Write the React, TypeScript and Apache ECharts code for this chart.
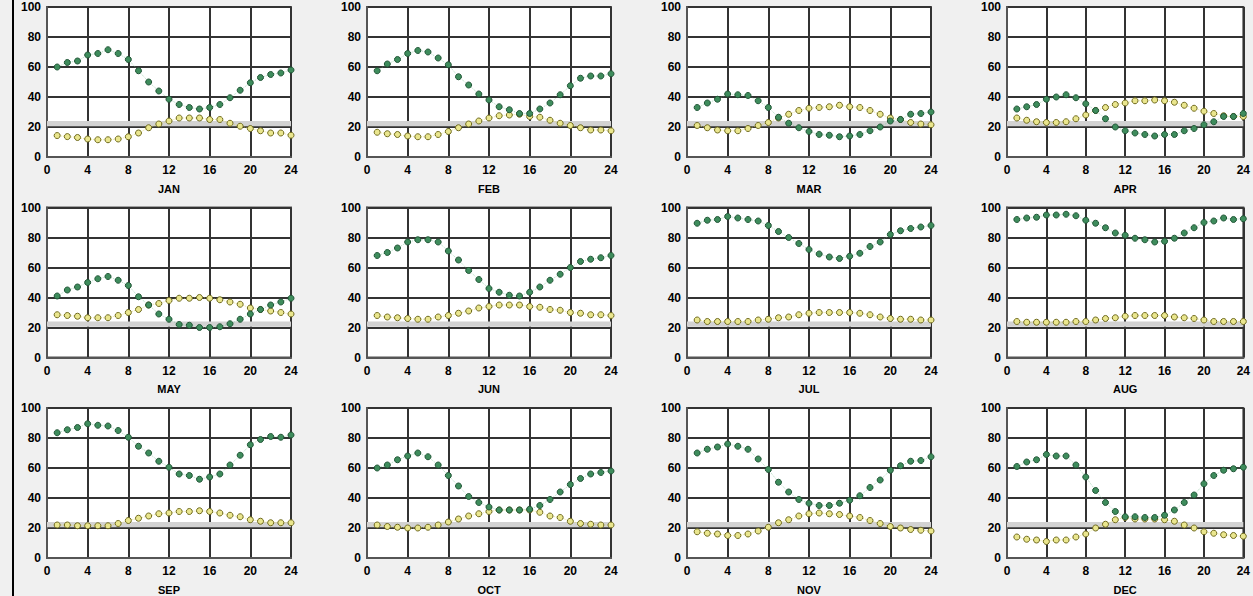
import React, { useEffect, useRef } from "react";
import * as echarts from "echarts";

const months = ["JAN", "FEB", "MAR", "APR", "MAY", "JUN", "JUL", "AUG", "SEP", "OCT", "NOV", "DEC"];
const hours = [1, 2, 3, 4, 5, 6, 7, 8, 9, 10, 11, 12, 13, 14, 15, 16, 17, 18, 19, 20, 21, 22, 23, 24];
const xTicks = { min: 0, max: 24, interval: 4 };
const yTicks = { min: 0, max: 100, interval: 20 };
const band = [20.5, 24];

const greenJan = [60, 63, 64, 68, 69, 71.5, 69, 65, 57.5, 50, 44, 38.5, 35, 33, 32, 33, 35, 39.5, 44.5, 49.5, 53, 55, 56, 58];
const yellowJan = [14.3, 13.6, 13, 12, 11.5, 11.5, 12, 13.5, 16, 19.5, 22, 24, 26, 26, 26, 25, 25, 22.5, 20.5, 19, 17.5, 16, 16, 14.5];
const greenFeb = [57.5, 62, 65, 69, 71, 70, 66, 61.5, 53.5, 48, 42, 38, 33.5, 31.5, 29, 29, 32, 36, 41.5, 47.5, 52.5, 54, 54, 55.5];
const yellowFeb = [16.5, 15.5, 15, 14, 13.5, 13.5, 15, 17, 19.5, 22, 24, 26, 27.5, 28, 28.5, 27, 26.5, 24.5, 22.5, 21, 19.5, 18, 18, 17.5];
const greenMar = [33, 36, 38.5, 42, 41.5, 41, 37.5, 33, 26.5, 22.5, 19.5, 17, 15, 14.5, 13.5, 14, 15, 17.5, 20, 24, 25, 28.5, 29, 30];
const yellowMar = [21, 19.5, 18, 17.5, 17.5, 19, 21, 23, 26, 28.5, 31, 32.5, 33, 33.5, 34.5, 33.5, 33, 31, 28.5, 26, 25, 23, 22, 21.5];
const greenApr = [32, 33.5, 35, 38.5, 40, 41.5, 39.5, 35.5, 31, 25.5, 20, 17.5, 16, 15, 14, 15, 15, 17.5, 19, 21.5, 23.5, 27, 27, 29];
const yellowApr = [26, 24.5, 23.5, 23, 23, 23.5, 25.5, 28, 31, 33, 35, 36, 37.5, 37.5, 38, 37.5, 36.5, 34.5, 32.5, 30.5, 29, 27.5, 27, 27];
const greenMay = [41, 45, 47, 50, 52.5, 54, 51.5, 48, 40.5, 35, 29, 25.5, 22, 21.5, 20, 20, 20.5, 22.5, 25.5, 29, 32, 35, 37, 39.5];
const yellowMay = [28.5, 28, 27.5, 26.5, 26.5, 26.5, 28, 30, 32, 35, 36, 38, 39.5, 39.5, 40, 39.5, 38.5, 37, 35.5, 33, 32, 31, 30, 29];
const greenJun = [68, 70, 73, 77, 78.5, 78.5, 77, 71, 65, 58, 52, 46, 43.5, 41.5, 41, 43.5, 47, 51.5, 55.5, 60, 64, 65.5, 66.5, 68];
const yellowJun = [28, 27, 26.5, 26, 25.5, 25.5, 27, 28, 29.5, 31, 33, 34, 35, 35, 35, 34, 33.5, 32, 31.5, 30, 29.5, 28.5, 28.5, 28];
const greenJul = [89.5, 91.5, 92, 94, 93, 92, 91, 88, 84, 80, 76, 72, 69, 67, 66, 67.5, 69.5, 74, 77, 82, 84.5, 86, 87, 88];
const yellowJul = [25, 24, 24, 24, 24, 24, 25, 25.5, 26.5, 27, 28.5, 29.5, 30, 30, 30, 30, 29.5, 28.5, 27, 26, 25.5, 25.5, 25, 25];
const greenAug = [92, 93, 93.5, 95, 95, 95.5, 94.5, 91.5, 89.5, 86.5, 83, 81.5, 79.5, 78.5, 77, 77.5, 79.5, 83, 86.5, 90, 91, 93, 92, 92.5];
const yellowAug = [24, 23.5, 23.5, 23.5, 23.5, 23.5, 24, 24, 25, 26, 26.5, 27.5, 28, 28, 28, 28, 27, 26.5, 26, 25, 24, 24, 24, 24];
const greenSep = [83.5, 85.5, 87, 89.5, 88.5, 88, 85, 80.5, 74.5, 70, 64.5, 60.5, 56, 55, 52.5, 54, 56, 62, 68.5, 75.5, 79, 81, 80.5, 82];
const yellowSep = [22, 22, 21.5, 21.5, 21.5, 21.5, 23, 25, 26.5, 28, 29.5, 30, 31, 31, 31.5, 31, 30, 28.5, 27.5, 25.5, 24.5, 23.5, 23.5, 23.5];
const greenOct = [60, 62, 65.5, 68, 70, 67.5, 62, 55, 48, 41, 37, 34, 32, 32, 32, 32.5, 35, 39, 44, 49, 53, 56, 57, 58];
const yellowOct = [22, 21, 20.5, 20, 20, 20.5, 22, 24, 26, 28, 29.5, 31, 32, 32, 32, 32, 30.5, 28, 27, 24.5, 23, 22.5, 22, 22];
const greenNov = [70, 72.5, 74, 76, 74.5, 72.5, 66, 59, 50.5, 44, 39, 36.5, 35, 35, 36.5, 38.5, 41.5, 47, 52, 58.5, 61.5, 64.5, 65, 67.5];
const yellowNov = [17.5, 16.5, 16, 15, 15, 16, 18, 20.5, 23.5, 25.5, 28, 29.5, 30, 29.5, 29, 28, 27, 25, 23, 21, 20, 19, 18.5, 18];
const greenDec = [61, 64, 65.5, 69, 68, 68, 62, 54, 45, 37, 31, 27.5, 27.5, 27, 27, 28.5, 32, 37, 42, 49.5, 55, 58.5, 59.5, 60.5];
const yellowDec = [14, 12.5, 12, 11, 12, 12, 14, 16, 20, 22.5, 25.5, 27, 26, 26, 26, 25.5, 24.5, 22, 20, 17.5, 16.5, 15.5, 15, 14.5];

const greenSeries = [greenJan, greenFeb, greenMar, greenApr, greenMay, greenJun, greenJul, greenAug, greenSep, greenOct, greenNov, greenDec];
const yellowSeries = [yellowJan, yellowFeb, yellowMar, yellowApr, yellowMay, yellowJun, yellowJul, yellowAug, yellowSep, yellowOct, yellowNov, yellowDec];

export default function App() {
  const ref = useRef<HTMLDivElement>(null);
  useEffect(() => {
    if (!ref.current) return;
    const chart = echarts.init(ref.current, null, { renderer: "svg" });
    const grids: any[] = [];
    const xAxes: any[] = [];
    const yAxes: any[] = [];
    const series: any[] = [];
    const labelStyle = { color: "#000", fontWeight: "bold", fontSize: 12, fontFamily: "Liberation Sans, Arial, sans-serif" };
    months.forEach((m, i) => {
      const col = i % 4;
      const row = Math.floor(i / 4);
      grids.push({
        left: 47 + 320 * col,
        top: 7 + 200.5 * row,
        width: 244,
        height: 150,
        show: true,
        backgroundColor: "#ffffff",
        borderColor: "#555",
        borderWidth: 2,
      });
      xAxes.push({
        type: "value",
        gridIndex: i,
        ...xTicks,
        name: m,
        nameLocation: "middle",
        nameGap: 26,
        nameTextStyle: { ...labelStyle, fontSize: 11 },
        axisLine: { show: true, lineStyle: { color: "#555", width: 2 } },
        axisTick: { show: false },
        axisLabel: { ...labelStyle, margin: 7 },
        splitLine: { show: true, lineStyle: { color: "#333", width: 2 } },
      });
      yAxes.push({
        type: "value",
        gridIndex: i,
        ...yTicks,
        axisLine: { show: true, lineStyle: { color: "#555", width: 2 } },
        axisTick: { show: false },
        axisLabel: { ...labelStyle, margin: 6 },
        splitLine: { show: true, lineStyle: { color: "#333", width: 2 } },
      });
      series.push({
        type: "line",
        xAxisIndex: i,
        yAxisIndex: i,
        data: hours.map((h, k) => [h, yellowSeries[i][k]]),
        symbol: "circle",
        symbolSize: 6,
        itemStyle: { color: "#eae68e", borderColor: "#6f6a1c", borderWidth: 1 },
        lineStyle: { color: "rgba(225,220,90,0.6)", width: 1, type: "dotted" },
        markArea: {
          silent: true,
          itemStyle: { color: "#d2d2d2" },
          data: [[{ yAxis: band[0] }, { yAxis: band[1] }]],
        },
        z: 3,
      });
      series.push({
        type: "line",
        xAxisIndex: i,
        yAxisIndex: i,
        data: hours.map((h, k) => [h, greenSeries[i][k]]),
        symbol: "circle",
        symbolSize: 6,
        itemStyle: { color: "#3e8c5c", borderColor: "#1f5535", borderWidth: 1 },
        lineStyle: { color: "rgba(110,190,140,0.5)", width: 1, type: "dotted" },
        z: 4,
      });
    });
    chart.setOption({
      animation: false,
      backgroundColor: "#f0f0f0",
      grid: grids,
      xAxis: xAxes,
      yAxis: yAxes,
      series,
      graphic: [
        { type: "rect", shape: { x: 12, y: 0, width: 2, height: 596 }, style: { fill: "#000" } },
      ],
    });
    return () => chart.dispose();
  }, []);
  return <div ref={ref} style={{ position: "fixed", left: 0, top: 0, width: 1253, height: 596 }} />;
}
